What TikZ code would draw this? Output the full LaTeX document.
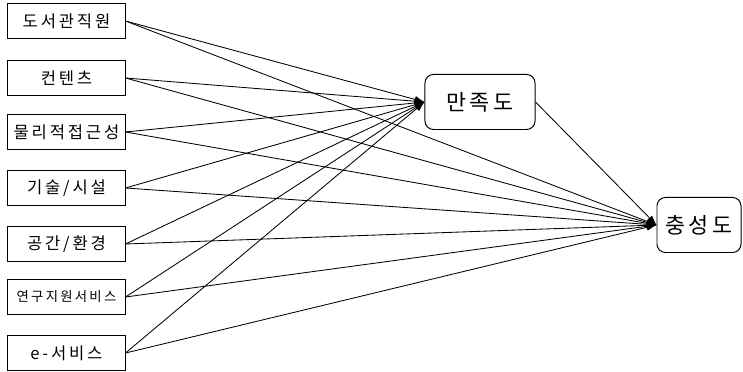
\documentclass[tikz,border=0pt]{standalone}
\usepackage{fontspec}
\newfontfamily\kr{Noto Sans CJK KR}
\usetikzlibrary{arrows.meta}
% letter spacing for the labels
\def\spaced#1{\spacedfirst#1\relax}
\def\spacedfirst#1{#1\spacedloop}
\def\spacedloop#1{\ifx#1\relax\else\kern0.17em#1\expandafter\spacedloop\fi}
\tikzset{
  factor/.style={draw, line width=0.7pt, inner sep=0pt,
    minimum width=2.925cm, minimum height=0.86cm, font=\kr\fontsize{11.8}{13}\selectfont},
  outcome/.style={draw, line width=0.7pt, rounded corners=6pt,
    minimum height=1.375cm, font=\kr\fontsize{15.5}{17}\selectfont},
  link/.style={line width=0.6pt, -{Latex[length=7pt,width=5pt]}}
}
\begin{document}
\begin{tikzpicture}[x=0.025cm,y=-0.025cm]
\useasboundingbox (0,0) rectangle (743,372);
    % left factors
    \node[factor] (staff)   at (66.5,21)  {\spaced{도서관직원}};
    \node[factor] (content) at (66.5,78)  {\spaced{컨텐츠}};
    \node[factor] (access)  at (66.5,132) {\spaced{물리적접근성}};
    \node[factor] (tech)    at (66.5,188) {\spaced{기술/시설}};
    \node[factor] (space)   at (66.5,244) {\spaced{공간/환경}};
    \node[factor, font=\kr\fontsize{9.5}{11}\selectfont] (research) at (66.5,297) {\spaced{연구지원서비스}};
    \node[factor] (eserv)   at (66.5,353) {\spaced{e-서비스}};
    %
    \node[outcome, minimum width=2.75cm] (sat)   at (480,102) {\spaced{만족도}};
    \node[outcome, minimum width=2.1cm]  (loyal) at (699,225) {\spaced{충성도}};
    %
    \foreach \f in {staff,content,access,tech,space,research,eserv} {
        \draw[link] (\f.east) -- (sat.west);
        \draw[link] (\f.east) -- (loyal.west);
    }
    \draw[link] (sat.east) -- (loyal.west);
\end{tikzpicture}
\end{document}
